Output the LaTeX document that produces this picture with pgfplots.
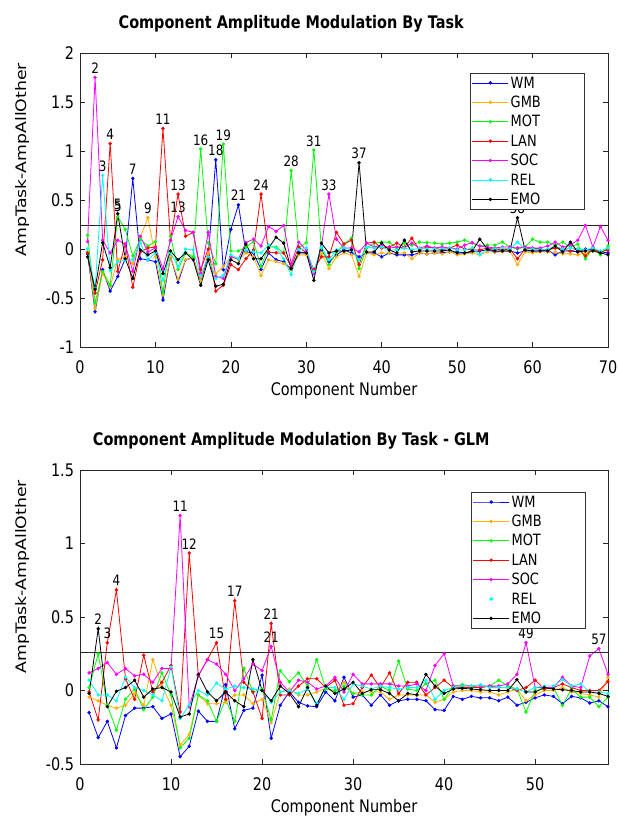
\documentclass[border=0pt]{standalone}
\usepackage{fontspec}
\setmainfont{DejaVu Sans}
\usepackage{pgfplots}
\usepackage{pgfplotstable}
\pgfplotsset{compat=1.18}
\definecolor{cWM}{rgb}{0,0,1}
\definecolor{cGMB}{rgb}{1,0.69,0}
\definecolor{cMOT}{rgb}{0,1,0}
\definecolor{cLAN}{rgb}{1,0,0}
\definecolor{cSOC}{rgb}{1,0,1}
\definecolor{cREL}{rgb}{0,1,1}
\definecolor{cEMO}{rgb}{0,0,0}

\pgfplotstableread{
x wm gmb mot lan soc rel emo
1 -0.05 -0.03 0.14 -0.04 0.075 0.00 -0.08
2 -0.64 -0.61 -0.55 -0.45 1.75 -0.40 -0.41
3 -0.21 -0.25 -0.23 -0.11 0.09 0.75 0.065
4 -0.43 -0.38 -0.37 1.075 -0.04 -0.22 -0.19
5 -0.28 -0.11 0.33 -0.23 0.09 -0.13 0.36
6 -0.10 -0.08 0.20 0.05 0.05 -0.11 -0.10
7 0.72 -0.15 -0.07 -0.39 -0.23 -0.11 -0.30
8 -0.10 0.12 0.10 -0.03 0.13 0.06 -0.01
9 -0.11 0.32 0.03 0.01 -0.03 -0.11 -0.06
10 -0.13 -0.08 0.075 0.02 0.01 -0.04 -0.02
11 -0.52 -0.47 -0.45 1.23 -0.20 -0.32 -0.25
12 -0.08 -0.08 0.13 0.09 0.09 -0.04 -0.02
13 -0.34 -0.31 -0.21 0.56 0.33 -0.18 -0.11
14 -0.11 -0.11 -0.04 0.13 0.19 0.00 -0.04
15 -0.09 -0.09 -0.08 0.17 0.17 -0.01 -0.11
16 -0.32 -0.32 1.02 -0.21 -0.25 -0.27 -0.37
17 -0.08 -0.04 0.06 0.00 0.17 -0.08 -0.11
18 0.91 -0.25 -0.15 -0.43 -0.28 -0.30 -0.38
19 -0.21 -0.18 1.07 -0.37 -0.30 -0.27 -0.36
20 0.20 -0.08 -0.02 -0.16 -0.08 -0.06 -0.11
21 0.45 -0.11 -0.02 -0.21 -0.10 -0.10 -0.15
22 -0.03 -0.04 0.02 -0.10 0.065 -0.01 0.05
23 -0.04 -0.08 0.075 -0.01 0.10 -0.03 -0.10
24 -0.21 -0.27 -0.18 0.56 0.03 -0.04 -0.10
25 -0.04 -0.11 0.02 -0.03 0.23 0.04 0.01
26 -0.11 -0.13 0.02 -0.04 0.18 0.01 0.12
27 -0.13 -0.15 -0.04 -0.04 0.24 -0.10 0.06
28 -0.21 -0.21 0.80 -0.18 -0.15 -0.26 -0.20
29 -0.03 -0.06 0.01 0.02 0.07 -0.01 -0.04
30 -0.04 -0.06 0.065 -0.04 -0.01 0.01 -0.04
31 -0.25 -0.21 1.01 -0.21 -0.25 -0.23 -0.32
32 -0.01 -0.04 0.01 -0.08 0.02 0.02 0.06
33 -0.13 -0.20 -0.16 -0.08 0.56 -0.11 -0.04
34 -0.06 -0.08 -0.04 0.17 0.10 -0.01 -0.02
35 -0.01 -0.04 0.05 0.05 0.01 0.01 -0.02
36 -0.04 -0.06 0.11 0.09 0.01 -0.01 -0.01
37 -0.08 -0.28 -0.20 -0.16 -0.03 -0.11 0.88
38 -0.04 -0.04 0.01 0.06 0.06 0.02 -0.03
39 -0.04 -0.06 0.06 0.07 0.02 0.01 -0.03
40 -0.08 -0.04 0.07 0.01 0.04 0.02 0.06
41 -0.04 -0.04 0.07 0.02 0.01 -0.01 -0.01
42 -0.06 -0.04 0.01 0.06 0.02 -0.01 -0.04
43 -0.06 -0.04 0.06 0.02 0.01 0.01 0.09
44 -0.06 -0.10 0.04 0.11 0.06 -0.01 -0.03
45 -0.04 -0.04 0.07 -0.01 0.01 0.01 -0.02
46 -0.05 -0.05 0.065 0.02 0.03 0.00 -0.02
47 -0.04 -0.04 0.06 0.01 0.01 0.00 -0.02
48 -0.04 -0.05 0.05 -0.01 0.02 0.00 -0.02
49 -0.03 -0.03 0.06 0.01 0.01 0.01 -0.01
50 -0.03 -0.06 0.07 0.04 0.00 -0.01 -0.04
51 -0.04 -0.05 0.09 0.00 0.04 -0.01 -0.04
52 -0.03 -0.04 0.06 -0.01 0.065 0.01 -0.02
53 -0.02 -0.06 0.03 -0.01 0.03 -0.06 0.10
54 -0.01 -0.03 0.04 0.01 0.02 0.00 0.00
55 -0.03 -0.03 0.04 0.00 0.01 0.00 -0.02
56 -0.02 -0.03 0.07 -0.01 0.02 0.01 -0.02
57 -0.02 -0.02 0.02 0.00 0.02 0.00 -0.02
58 -0.04 -0.16 0.00 -0.10 0.01 0.07 0.32
59 -0.02 -0.03 0.02 0.00 0.02 0.00 -0.01
60 -0.02 -0.04 0.10 0.01 0.01 0.00 -0.02
61 -0.02 -0.03 0.07 0.00 0.01 -0.01 -0.02
62 -0.01 -0.03 0.07 -0.01 0.03 0.00 -0.02
63 -0.06 -0.03 0.04 0.01 0.07 0.03 0.03
64 -0.02 -0.05 0.07 0.00 0.02 0.00 -0.03
65 -0.02 -0.05 0.02 -0.02 0.04 0.01 0.07
66 -0.03 -0.06 0.05 0.00 0.09 0.00 -0.03
67 0.00 -0.04 -0.10 -0.07 0.24 -0.01 -0.02
68 -0.01 -0.02 0.01 0.00 0.02 0.01 -0.02
69 -0.03 -0.04 -0.06 -0.03 0.23 -0.02 -0.04
70 -0.04 0.01 0.03 -0.01 0.09 0.01 -0.06
}\topdata

\pgfplotstableread{
x wm gmb mot lan soc rel emo
1 -0.15 -0.045 0.02 -0.01 0.12 0.07 -0.02
2 -0.32 -0.07 0.25 -0.20 0.15 -0.03 0.42
3 -0.21 -0.10 -0.10 0.325 0.19 -0.03 -0.11
4 -0.39 -0.12 -0.27 0.684 0.11 -0.07 -0.005
5 -0.17 -0.10 -0.06 0.08 0.15 0.09 0.02
6 -0.12 -0.02 0.01 -0.06 0.10 0.02 0.07
7 -0.12 -0.10 -0.13 0.24 0.11 0.00 -0.045
8 -0.11 0.21 -0.045 -0.01 0.056 -0.03 0.01
9 -0.19 0.03 0.12 0.056 0.15 -0.07 0.02
10 -0.16 -0.10 -0.03 0.17 0.15 0.16 -0.01
11 -0.45 -0.37 -0.39 -0.146 1.19 -0.19 -0.18
12 -0.38 -0.30 -0.325 0.935 -0.11 -0.10 -0.16
13 -0.14 -0.03 -0.03 0.10 0.10 0.00 0.11
14 -0.21 -0.09 -0.07 0.21 0.21 -0.03 -0.01
15 -0.21 -0.09 -0.21 0.325 0.18 0.05 -0.07
16 0.04 -0.08 -0.06 -0.06 0.11 0.01 -0.01
17 -0.26 -0.03 -0.21 0.61 0.00 0.03 -0.07
18 -0.135 -0.03 0.15 0.056 0.08 0.02 -0.11
19 -0.12 -0.09 -0.01 -0.01 0.18 0.01 0.21
20 0.105 -0.06 0.01 -0.19 0.135 0.00 0.00
21 -0.325 -0.22 -0.20 0.455 0.30 -0.08 -0.07
22 -0.10 -0.01 0.135 -0.03 0.056 -0.01 0.03
23 -0.01 0.01 0.06 -0.03 -0.01 0.00 -0.02
24 -0.08 -0.03 0.12 0.03 0.07 -0.02 -0.11
25 -0.105 -0.03 0.03 0.08 0.056 0.01 0.02
26 -0.11 -0.01 0.21 0.08 0.01 -0.09 -0.10
27 -0.01 0.015 0.01 0.02 0.03 0.02 0.03
28 -0.07 -0.01 0.00 0.07 0.09 0.02 -0.02
29 0.09 0.056 0.03 -0.10 -0.01 -0.06 0.01
30 -0.045 -0.02 -0.02 -0.09 0.11 0.045 0.056
31 -0.03 -0.01 -0.03 0.02 0.045 0.03 -0.02
32 -0.10 -0.01 -0.03 0.105 0.045 0.01 0.005
33 -0.03 -0.01 0.03 0.02 0.045 0.03 0.005
34 -0.10 -0.06 0.00 0.12 0.045 0.02 -0.02
35 -0.07 -0.03 0.20 -0.02 0.03 0.01 -0.07
36 -0.06 -0.03 0.01 0.056 0.03 0.02 -0.02
37 -0.06 -0.03 0.00 0.056 0.045 0.02 -0.03
38 -0.07 -0.03 0.045 -0.03 0.00 0.07 0.11
39 -0.13 -0.08 0.07 0.02 0.17 -0.06 0.03
40 -0.135 -0.06 -0.06 0.07 0.25 0.00 -0.02
41 -0.04 -0.01 0.03 0.02 0.03 0.02 0.01
42 -0.06 0.00 0.04 0.02 0.03 0.03 0.015
43 -0.04 0.00 0.03 0.02 0.03 0.03 0.01
44 -0.05 -0.01 0.02 0.02 0.03 0.04 0.005
45 -0.05 -0.01 0.03 0.03 0.03 0.02 0.00
46 -0.07 -0.03 0.07 0.02 0.03 0.02 0.00
47 -0.045 -0.01 0.03 0.02 0.045 0.02 0.00
48 -0.10 0.01 0.01 0.00 0.11 0.01 0.074
49 -0.08 -0.07 -0.146 0.02 0.325 -0.01 -0.01
50 -0.05 -0.03 0.00 0.07 0.02 0.02 -0.01
51 -0.03 0.00 0.01 0.01 0.02 0.03 0.02
52 -0.04 0.00 0.02 0.02 0.02 0.03 0.01
53 -0.09 0.02 -0.10 0.045 0.09 0.074 0.005
54 -0.04 -0.01 0.01 0.02 0.03 0.03 0.00
55 -0.05 -0.02 -0.045 0.00 0.02 0.045 -0.01
56 -0.085 -0.03 -0.045 0.00 0.235 -0.01 -0.01
57 -0.07 -0.045 -0.11 0.00 0.285 -0.01 -0.02
58 -0.11 0.09 -0.045 0.06 0.11 -0.02 -0.04
}\botdata

\tikzset{lab/.style={font=\fontsize{12}{14}\selectfont, anchor=base, yshift=4bp, inner sep=0pt, yscale=1.2}}
\pgfplotsset{
  ser/.style={line width=0.8bp, mark=*, mark size=1.3bp, mark options={solid}},
  myaxis/.style={
    scale only axis, width=528bp, height=294bp,
    axis line style={black!85, line width=0.6bp},
    every tick/.style={black!85, line width=0.6bp},
    major tick length=5bp,
    tick align=inside,
    xtick pos=both, ytick pos=both,
    ticklabel style={font=\fontsize{14.5}{17}\selectfont, yscale=1.2},
    xticklabel style={yshift=-7.5bp},
    yticklabel style={xshift=-2.5bp},
    label style={font=\fontsize{14.5}{17}\selectfont},
    xlabel style={at={(axis description cs:0.5,0)}, anchor=base, yshift=-48.5bp, yscale=1.2},
    ylabel style={at={(axis description cs:-0.1098,0.637)}, anchor=center, xscale=1.2},
    title style={font=\bfseries\fontsize{14.5}{17}\selectfont, at={(axis description cs:0.4,1)}, anchor=base, yshift=19bp, yscale=1.2},
    xlabel={Component Number},
    ylabel={AmpTask-AmpAllOther},
    legend cell align=left,
    legend image code/.code={\draw[mark repeat=2,mark phase=2,##1] plot coordinates {(0bp,0bp) (18bp,0bp) (36bp,0bp)};},
    legend style={draw=black!80, line width=0.5bp, fill=white, anchor=north east,
      font=\fontsize{13}{15}\selectfont, inner xsep=2bp, inner ysep=1bp, row sep=2bp,
      nodes={text width=70bp, text height=9.5bp, text depth=1bp, inner sep=2bp, yscale=1.2}},
  }
}

\begin{document}
\begin{tikzpicture}
\useasboundingbox (0,0) rectangle (618bp,817bp);
% ---------- top ----------
\begin{axis}[myaxis, at={(80bp,470bp)}, anchor=south west,
  xmin=0, xmax=70, ymin=-1, ymax=2,
  xtick={0,10,20,30,40,50,60,70}, xticklabels={0,10,20,30,40,50,60,70},
  ytick={-1,-0.5,0,0.5,1,1.5,2}, yticklabels={-1,-0.5,0,0.5,1,1.5,2},
  title={Component Amplitude Modulation By Task},
  legend style={at={(0.9564,0.932)}}]
\addplot[cWM, ser] table[x=x,y=wm]{\topdata};
\addplot[cGMB, ser] table[x=x,y=gmb]{\topdata};
\addplot[cMOT, ser] table[x=x,y=mot]{\topdata};
\addplot[cLAN, ser] table[x=x,y=lan]{\topdata};
\addplot[cSOC, ser] table[x=x,y=soc]{\topdata};
\addplot[cREL, ser] table[x=x,y=rel]{\topdata};
\addplot[cEMO, ser] table[x=x,y=emo]{\topdata};
\addplot[black!85, line width=0.8bp, forget plot] coordinates {(0,0.245) (70,0.245)};
\legend{WM,GMB,MOT,LAN,SOC,REL,EMO}
\node[lab] at (axis cs:2,1.75) {2};
\node[lab] at (axis cs:3,0.75) {3};
\node[lab] at (axis cs:4,1.075) {4};
\node[lab] at (axis cs:5,0.36) {5};
\node[lab] at (axis cs:5.03,0.345) {5};
\node[lab] at (axis cs:7,0.72) {7};
\node[lab] at (axis cs:9,0.32) {9};
\node[lab] at (axis cs:11,1.23) {11};
\node[lab] at (axis cs:13,0.56) {13};
\node[lab] at (axis cs:13,0.33) {13};
\node[lab] at (axis cs:16,1.02) {16};
\node[lab] at (axis cs:18,0.91) {18};
\node[lab] at (axis cs:19,1.07) {19};
\node[lab] at (axis cs:21,0.45) {21};
\node[lab] at (axis cs:24,0.56) {24};
\node[lab] at (axis cs:28,0.80) {28};
\node[lab] at (axis cs:31,1.01) {31};
\node[lab] at (axis cs:33,0.56) {33};
\node[lab] at (axis cs:37,0.88) {37};
\node[lab] at (axis cs:58,0.32) {58};
\end{axis}
% ---------- bottom ----------
\begin{axis}[myaxis, at={(80bp,53bp)}, anchor=south west,
  xmin=0, xmax=58, ymin=-0.5, ymax=1.5,
  xtick={0,10,20,30,40,50}, xticklabels={0,10,20,30,40,50},
  ytick={-0.5,0,0.5,1,1.5}, yticklabels={-0.5,0,0.5,1,1.5},
  title={Component Amplitude Modulation By Task - GLM},
  legend style={at={(0.958,0.925)}}]
\addplot[cWM, ser] table[x=x,y=wm]{\botdata};
\addplot[cGMB, ser] table[x=x,y=gmb]{\botdata};
\addplot[cMOT, ser] table[x=x,y=mot]{\botdata};
\addplot[cLAN, ser] table[x=x,y=lan]{\botdata};
\addplot[cSOC, ser] table[x=x,y=soc]{\botdata};
\addplot[cREL, ser, legend image code/.code={\fill[cREL] (18bp,0bp) circle (1.6bp);}] table[x=x,y=rel]{\botdata};
\addplot[cEMO, ser] table[x=x,y=emo]{\botdata};
\addplot[black!85, line width=0.8bp, forget plot] coordinates {(0,0.262) (58,0.262)};
\legend{WM,GMB,MOT,LAN,SOC,REL,EMO}
\node[lab] at (axis cs:2,0.42) {2};
\node[lab] at (axis cs:3,0.325) {3};
\node[lab] at (axis cs:4,0.684) {4};
\node[lab] at (axis cs:11,1.19) {11};
\node[lab] at (axis cs:12,0.935) {12};
\node[lab] at (axis cs:15,0.325) {15};
\node[lab] at (axis cs:17,0.61) {17};
\node[lab] at (axis cs:21,0.455) {21};
\node[lab] at (axis cs:21,0.30) {21};
\node[lab] at (axis cs:49,0.325) {49};
\node[lab] at (axis cs:57,0.285) {57};
\end{axis}
\end{tikzpicture}
\end{document}
